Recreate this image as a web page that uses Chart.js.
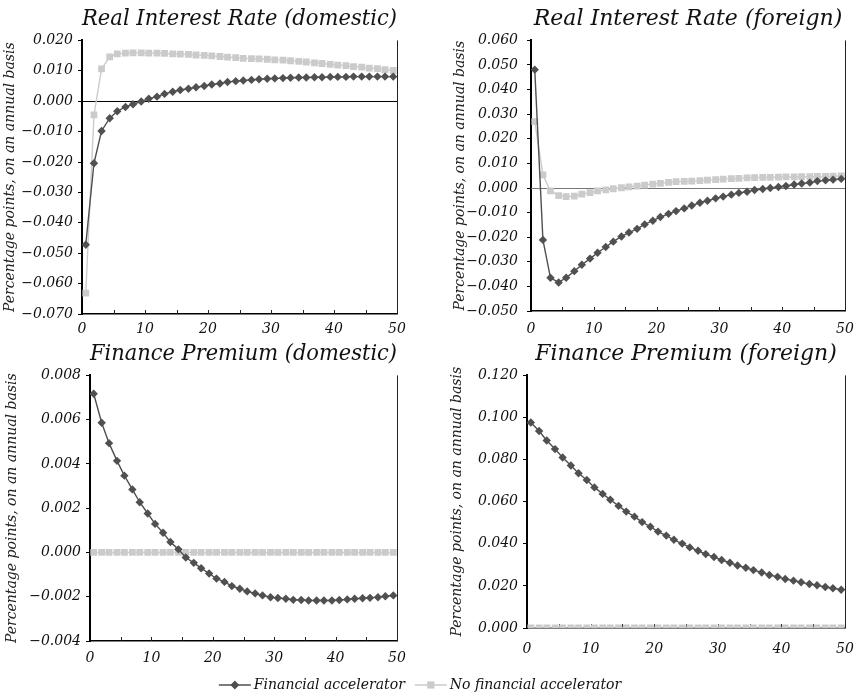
<!DOCTYPE html>
<html>
<head>
<meta charset="utf-8">
<script src="https://cdn.jsdelivr.net/npm/chart.js@4.4.1/dist/chart.umd.min.js"></script>
<style>
  body { margin: 0; background: #fff; }
  #wrap { position: relative; width: 859px; height: 697px; overflow: hidden; }
  #wrap canvas { position: absolute; }
</style>
</head>
<body>
<div id="wrap">
  <canvas id="rirDom" width="430" height="345" style="left:0;top:0"></canvas>
  <canvas id="rirFor" width="440" height="345" style="left:430px;top:0"></canvas>
  <canvas id="fpDom" width="430" height="335" style="left:0;top:335px"></canvas>
  <canvas id="fpFor" width="440" height="335" style="left:430px;top:335px"></canvas>
  <canvas id="legend" width="859" height="30" style="left:0;top:667px"></canvas>
</div>
<script>
// quarters, shown on a 0-50 axis
const periods = [0.6, 1.9, 3.1, 4.4, 5.6, 6.9, 8.1, 9.4, 10.6, 11.9,
  13.1, 14.4, 15.6, 16.9, 18.1, 19.4, 20.6, 21.9, 23.1, 24.4,
  25.6, 26.9, 28.1, 29.4, 30.6, 31.9, 33.1, 34.4, 35.6, 36.9,
  38.1, 39.4, 40.6, 41.9, 43.1, 44.4, 45.6, 46.9, 48.1, 49.4];

const seriesNames = ['Financial accelerator', 'No financial accelerator'];

// Real interest rate (domestic)
const rirDomFA = [-0.0472, -0.0204, -0.0098, -0.0056, -0.0033, -0.0019, -0.0010, -0.0001, 0.0008, 0.0015,
  0.0024, 0.0031, 0.0037, 0.0041, 0.0046, 0.0050, 0.0055, 0.0058, 0.0063, 0.0066,
  0.0068, 0.0070, 0.0072, 0.0074, 0.0075, 0.0076, 0.0077, 0.0078, 0.0078, 0.0079,
  0.0079, 0.0080, 0.0080, 0.0080, 0.0081, 0.0081, 0.0081, 0.0081, 0.0081, 0.0081];
const rirDomNoFA = [-0.0631, -0.0045, 0.0106, 0.0146, 0.0156, 0.0158, 0.0159, 0.0159, 0.0158, 0.0158,
  0.0157, 0.0156, 0.0155, 0.0154, 0.0152, 0.0151, 0.0149, 0.0147, 0.0145, 0.0143,
  0.0141, 0.0140, 0.0139, 0.0138, 0.0136, 0.0135, 0.0133, 0.0131, 0.0129, 0.0126,
  0.0124, 0.0121, 0.0119, 0.0117, 0.0114, 0.0112, 0.0109, 0.0107, 0.0104, 0.0101];

// Real interest rate (foreign)
const rirForFA = [0.0481, -0.0211, -0.0365, -0.0384, -0.0365, -0.0338, -0.0312, -0.0287, -0.0263, -0.0240,
  -0.0218, -0.0197, -0.0181, -0.0166, -0.0148, -0.0133, -0.0118, -0.0105, -0.0094, -0.0083,
  -0.0071, -0.0060, -0.0052, -0.0042, -0.0035, -0.0027, -0.0020, -0.0015, -0.0008, -0.0004,
  0.0000, 0.0004, 0.0008, 0.0014, 0.0018, 0.0022, 0.0028, 0.0031, 0.0034, 0.0037];
const rirForNoFA = [0.0270, 0.0053, -0.0012, -0.0031, -0.0035, -0.0033, -0.0025, -0.0019, -0.0012, -0.0008,
  -0.0003, 0.0001, 0.0005, 0.0008, 0.0012, 0.0016, 0.0019, 0.0023, 0.0026, 0.0027,
  0.0028, 0.0030, 0.0032, 0.0034, 0.0036, 0.0038, 0.0039, 0.0041, 0.0042, 0.0043,
  0.0043, 0.0044, 0.0045, 0.0045, 0.0046, 0.0046, 0.0047, 0.0047, 0.0048, 0.0049];

// Finance premium (domestic)
const fpDomFA = [0.00717, 0.00586, 0.00494, 0.00414, 0.00347, 0.00285, 0.00227, 0.00176, 0.00129, 0.00089,
  0.00047, 0.00014, -0.00023, -0.00047, -0.00071, -0.00095, -0.00118, -0.00133, -0.00152, -0.00164,
  -0.00176, -0.00185, -0.00194, -0.00202, -0.00206, -0.00209, -0.00214, -0.00215, -0.00217, -0.00217,
  -0.00217, -0.00217, -0.00215, -0.00212, -0.00209, -0.00207, -0.00205, -0.00202, -0.00198, -0.00194];
const fpDomNoFA = [0, 0, 0, 0, 0, 0, 0, 0, 0, 0, 0, 0, 0, 0, 0, 0, 0, 0, 0, 0,
  0, 0, 0, 0, 0, 0, 0, 0, 0, 0, 0, 0, 0, 0, 0, 0, 0, 0, 0, 0];

// Finance premium (foreign)
const fpForFA = [0.0976, 0.0936, 0.0891, 0.0850, 0.0810, 0.0772, 0.0735, 0.0703, 0.0668, 0.0637,
  0.0609, 0.0580, 0.0553, 0.0529, 0.0503, 0.0481, 0.0458, 0.0439, 0.0419, 0.0401,
  0.0383, 0.0367, 0.0351, 0.0337, 0.0323, 0.0310, 0.0297, 0.0286, 0.0275, 0.0264,
  0.0252, 0.0243, 0.0233, 0.0225, 0.0217, 0.0209, 0.0203, 0.0195, 0.0189, 0.0182];
const fpForNoFA = [0, 0, 0, 0, 0, 0, 0, 0, 0, 0, 0, 0, 0, 0, 0, 0, 0, 0, 0, 0,
  0, 0, 0, 0, 0, 0, 0, 0, 0, 0, 0, 0, 0, 0, 0, 0, 0, 0, 0, 0];

const xTicks = [0, 10, 20, 30, 40, 50];

const FONT = "'DejaVu Serif', serif";
const DARK = '#505050';
const LIGHT = '#cbcbcb';
const yTitle = 'Percentage points, on an annual basis';

function fmt(v) {
  if (Math.abs(v) < 1e-9) return '0.000';
  return (v < 0 ? '\u2212' : '') + Math.abs(v).toFixed(3);
}

// zero line, right edge and the small inward ticks on the x axis
const framePlugin = {
  id: 'frame',
  beforeDatasetsDraw(chart, args, opts) {
    const { ctx, chartArea: a, scales } = chart;
    ctx.save();
    if (opts.zero) {
      const y0 = Math.round(scales.y.getPixelForValue(0)) + 0.5;
      ctx.strokeStyle = opts.zero;
      ctx.lineWidth = 1;
      ctx.beginPath();
      ctx.moveTo(a.left, y0);
      ctx.lineTo(a.right, y0);
      ctx.stroke();
    }
    ctx.strokeStyle = '#222';
    ctx.lineWidth = 1;
    ctx.beginPath();
    ctx.moveTo(a.right + 0.5, a.top);
    ctx.lineTo(a.right + 0.5, a.bottom);
    for (let v = 5; v < 50; v += 5) {
      const px = Math.round(scales.x.getPixelForValue(v)) + 0.5;
      ctx.moveTo(px, a.bottom);
      ctx.lineTo(px, a.bottom - 4);
    }
    ctx.stroke();
    ctx.restore();
  }
};

function points(ys) {
  return periods.map((x, i) => ({ x: x, y: ys[i] }));
}

function seriesSets(fa, noFa) {
  return [
    {
      label: seriesNames[0], data: points(fa),
      borderColor: DARK, backgroundColor: DARK, borderWidth: 1.4,
      pointStyle: 'rectRot', pointRadius: 4.2, pointBorderWidth: 0
    },
    {
      label: seriesNames[1], data: points(noFa),
      borderColor: LIGHT, backgroundColor: LIGHT, borderWidth: 1.4,
      pointStyle: 'rect', pointRadius: 4.8, pointBorderWidth: 0
    }
  ];
}

function makePanel(id, p) {
  return new Chart(document.getElementById(id), {
    type: 'line',
    data: { datasets: seriesSets(p.fa, p.noFa) },
    options: {
      responsive: false,
      animation: false,
      layout: { padding: { left: 0, right: p.padRight, top: 3, bottom: 0 } },
      elements: { line: { tension: 0 } },
      plugins: {
        legend: { display: false },
        tooltip: { enabled: false },
        title: {
          display: true, text: p.title, color: '#111', fullSize: false,
          font: { family: FONT, size: 22, style: 'italic', weight: 'normal' },
          padding: { top: 3, bottom: 8 }
        },
        frame: { zero: p.zero }
      },
      scales: {
        x: {
          type: 'linear', min: 0, max: 50,
          afterFit: s => { s.height = p.xHeight; },
          border: { display: true, color: '#000', width: 1.5 },
          grid: { display: false, drawTicks: false },
          afterBuildTicks: s => { s.ticks = xTicks.map(v => ({ value: v })); },
          ticks: {
            autoSkip: false, maxRotation: 0, padding: p.xPad, color: '#111',
            font: { family: FONT, size: 14, style: 'italic' }
          }
        },
        y: {
          min: p.min, max: p.max,
          afterFit: s => { s.width = p.yWidth; },
          border: { display: true, color: '#000', width: 2 },
          grid: { drawOnChartArea: false, drawTicks: true, tickLength: 4, color: '#000' },
          ticks: {
            stepSize: p.step, autoSkip: false, maxTicksLimit: 30, padding: p.yPad, color: '#111',
            font: { family: FONT, size: 14, style: 'italic' },
            callback: v => fmt(v)
          },
          title: {
            display: true, text: yTitle, color: '#222',
            font: { family: FONT, size: 14, style: 'italic' },
            padding: { top: p.titlePad, bottom: 0 }
          }
        }
      }
    },
    plugins: [framePlugin]
  });
}

makePanel('rirDom', {
  title: 'Real Interest Rate (domestic)', fa: rirDomFA, noFa: rirDomNoFA,
  min: -0.07, max: 0.02, step: 0.01, zero: '#000',
  yWidth: 82, padRight: 33, xHeight: 31, xPad: 7, yPad: 5, titlePad: 2
});
makePanel('rirFor', {
  title: 'Real Interest Rate (foreign)', fa: rirForFA, noFa: rirForNoFA,
  min: -0.05, max: 0.06, step: 0.01, zero: '#777',
  yWidth: 101, padRight: 25, xHeight: 34, xPad: 10, yPad: 9, titlePad: 22
});
makePanel('fpDom', {
  title: 'Finance Premium (domestic)', fa: fpDomFA, noFa: fpDomNoFA,
  min: -0.004, max: 0.008, step: 0.002, zero: null,
  yWidth: 90, padRight: 33, xHeight: 29, xPad: 9, yPad: 5, titlePad: 4
});
makePanel('fpFor', {
  title: 'Finance Premium (foreign)', fa: fpForFA, noFa: fpForNoFA,
  min: 0, max: 0.12, step: 0.02, zero: null,
  yWidth: 97, padRight: 25, xHeight: 42, xPad: 13, yPad: 5, titlePad: 19
});

// shared legend: line sample with its marker in the middle, then the name
const legendPlugin = {
  id: 'sharedLegend',
  afterDraw(chart) {
    const ctx = chart.ctx;
    const sets = chart.data.datasets;
    const lineLen = 32, gap = 3, itemGap = 10, cy = 18, cx = 420;
    ctx.save();
    ctx.font = 'italic 14px ' + FONT;
    const widths = sets.map(ds => ctx.measureText(ds.label).width);
    const total = widths.reduce((s, w) => s + lineLen + gap + w, 0) + itemGap * (sets.length - 1);
    let x = cx - total / 2;
    sets.forEach((ds, i) => {
      ctx.fillStyle = ds.borderColor;
      ctx.fillRect(x, cy - 0.75, lineLen, 1.5);
      ctx.beginPath();
      Chart.helpers.drawPoint(ctx, {
        pointStyle: ds.pointStyle, radius: ds.pointRadius, rotation: 0, borderWidth: 0
      }, x + lineLen / 2, cy);
      ctx.fill();
      ctx.fillStyle = '#111';
      ctx.textBaseline = 'middle';
      ctx.textAlign = 'left';
      ctx.fillText(ds.label, x + lineLen + gap, cy);
      x += lineLen + gap + widths[i] + itemGap;
    });
    ctx.restore();
  }
};

new Chart(document.getElementById('legend'), {
  type: 'line',
  data: { datasets: seriesSets([], []) },
  options: {
    responsive: false,
    animation: false,
    scales: { x: { display: false }, y: { display: false } },
    plugins: { legend: { display: false }, tooltip: { enabled: false } }
  },
  plugins: [legendPlugin]
});
</script>
</body>
</html>
